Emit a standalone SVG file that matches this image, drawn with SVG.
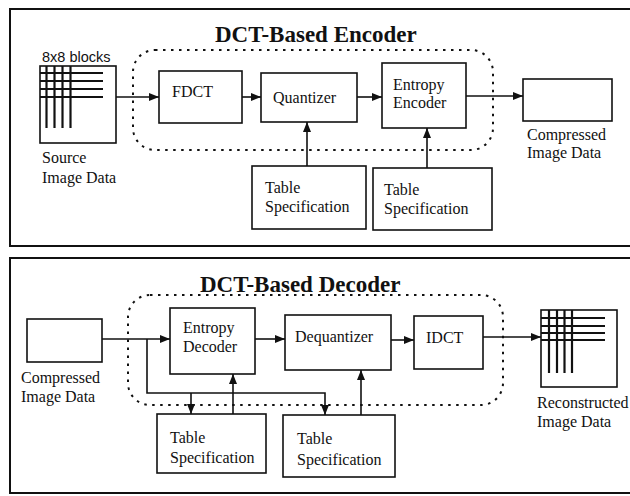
<svg xmlns="http://www.w3.org/2000/svg" width="630" height="496" viewBox="0 0 630 496">
  <defs>
    <marker id="arrow" viewBox="0 0 10 8" refX="10" refY="4" markerWidth="10" markerHeight="8" markerUnits="userSpaceOnUse" orient="auto">
      <path d="M0,0 L10,4 L0,8 Z" fill="#111"/>
    </marker>
  </defs>
  <style>
    .panel { fill: none; stroke: #111; stroke-width: 2; }
    .box { fill: #fff; stroke: #111; stroke-width: 1.6; }
    .group { fill: none; stroke: #111; stroke-width: 2; stroke-dasharray: 2.5 5.5; }
    .grid { stroke: #111; stroke-width: 2.2; }
    .wire { fill: none; stroke: #111; stroke-width: 1.6; marker-end: url(#arrow); }
    .line { fill: none; stroke: #111; stroke-width: 1.6; }
    .label { font-family: "Liberation Serif", "Times New Roman", serif; font-size: 16px; fill: #111; }
    .title { font-family: "Liberation Serif", "Times New Roman", serif; font-size: 23px; font-weight: bold; fill: #111; }
    .small { font-family: "Liberation Sans", Arial, sans-serif; font-size: 14.5px; fill: #111; }
  </style>
  <rect width="630" height="496" fill="#fff"/>

  <!-- Encoder panel -->
  <g id="encoder-panel">
    <rect class="panel" x="10" y="9" width="640" height="237"/>
    <text class="title" x="215" y="42">DCT-Based Encoder</text>
    <rect class="group" x="133" y="50" width="360" height="100" rx="22" ry="22"/>
  </g>

  <g id="source-image">
    <text class="small" x="42" y="62">8x8 blocks</text>
    <rect class="box" x="40" y="66" width="76" height="77"/>
    <g class="grid">
      <line x1="46.5" y1="66" x2="46.5" y2="128"/>
      <line x1="54.5" y1="66" x2="54.5" y2="128"/>
      <line x1="62.5" y1="66" x2="62.5" y2="128"/>
      <line x1="70.5" y1="66" x2="70.5" y2="128"/>
      <line x1="40" y1="73" x2="103" y2="73"/>
      <line x1="40" y1="81" x2="103" y2="81"/>
      <line x1="40" y1="89" x2="103" y2="89"/>
      <line x1="40" y1="97" x2="103" y2="97"/>
    </g>
    <text class="label" x="42" y="163">Source</text>
    <text class="label" x="42" y="183">Image Data</text>
  </g>

  <g id="fdct">
    <rect class="box" x="159" y="71" width="83" height="52"/>
    <text class="label" x="172" y="97">FDCT</text>
  </g>

  <g id="quantizer">
    <rect class="box" x="261" y="73" width="96" height="49"/>
    <text class="label" x="273" y="103">Quantizer</text>
  </g>

  <g id="entropy-encoder">
    <rect class="box" x="382" y="63" width="84" height="65"/>
    <text class="label" x="393" y="90">Entropy</text>
    <text class="label" x="393" y="108">Encoder</text>
  </g>

  <g id="compressed-out">
    <rect class="box" x="523" y="79" width="89" height="42"/>
    <text class="label" x="527" y="140">Compressed</text>
    <text class="label" x="527" y="158">Image Data</text>
  </g>

  <g id="enc-table-1">
    <rect class="box" x="252" y="166" width="114" height="63"/>
    <text class="label" x="265" y="193">Table</text>
    <text class="label" x="265" y="212">Specification</text>
  </g>

  <g id="enc-table-2">
    <rect class="box" x="373" y="168" width="119" height="62"/>
    <text class="label" x="384" y="195">Table</text>
    <text class="label" x="384" y="214">Specification</text>
  </g>

  <!-- Decoder panel -->
  <g id="decoder-panel">
    <rect class="panel" x="10" y="258" width="640" height="235"/>
    <text class="title" x="200" y="292">DCT-Based Decoder</text>
    <rect class="group" x="128" y="295" width="375" height="110" rx="22" ry="22"/>
  </g>

  <g id="compressed-in">
    <rect class="box" x="27" y="319" width="75" height="43"/>
    <text class="label" x="21" y="383">Compressed</text>
    <text class="label" x="21" y="402">Image Data</text>
  </g>

  <g id="entropy-decoder">
    <rect class="box" x="170" y="308" width="85" height="66"/>
    <text class="label" x="183" y="333">Entropy</text>
    <text class="label" x="183" y="352">Decoder</text>
  </g>

  <g id="dequantizer">
    <rect class="box" x="285" y="315" width="106" height="55"/>
    <text class="label" x="295" y="342">Dequantizer</text>
  </g>

  <g id="idct">
    <rect class="box" x="414" y="316" width="69" height="53"/>
    <text class="label" x="426" y="343">IDCT</text>
  </g>

  <g id="reconstructed-image">
    <rect class="box" x="541" y="310" width="76" height="77"/>
    <g class="grid">
      <line x1="549" y1="310" x2="549" y2="373"/>
      <line x1="557" y1="310" x2="557" y2="373"/>
      <line x1="564.5" y1="310" x2="564.5" y2="373"/>
      <line x1="572" y1="310" x2="572" y2="373"/>
      <line x1="541" y1="318" x2="605" y2="318"/>
      <line x1="541" y1="326" x2="605" y2="326"/>
      <line x1="541" y1="333" x2="605" y2="333"/>
      <line x1="541" y1="340" x2="605" y2="340"/>
    </g>
    <text class="label" x="537" y="408">Reconstructed</text>
    <text class="label" x="537" y="427">Image Data</text>
  </g>

  <g id="dec-table-1">
    <rect class="box" x="157" y="414" width="109" height="59"/>
    <text class="label" x="170" y="443">Table</text>
    <text class="label" x="170" y="463">Specification</text>
  </g>

  <g id="dec-table-2">
    <rect class="box" x="283" y="415" width="112" height="62"/>
    <text class="label" x="297" y="444">Table</text>
    <text class="label" x="297" y="465">Specification</text>
  </g>

  <!-- Connectors -->
  <g id="connectors">
    <line class="wire" x1="116" y1="97" x2="159" y2="97"/>
    <line class="wire" x1="242" y1="97" x2="261" y2="97"/>
    <line class="wire" x1="357" y1="97" x2="382" y2="97"/>
    <line class="wire" x1="466" y1="96" x2="523" y2="96"/>
    <line class="wire" x1="307" y1="166" x2="307" y2="122"/>
    <line class="wire" x1="427" y1="168" x2="427" y2="128"/>

    <line class="wire" x1="102" y1="339" x2="170" y2="339"/>
    <line class="wire" x1="255" y1="339" x2="285" y2="339"/>
    <line class="wire" x1="391" y1="340" x2="414" y2="340"/>
    <line class="wire" x1="483" y1="337" x2="541" y2="337"/>
    <path class="wire" d="M147,339 V393 H325 V415"/>
    <line class="wire" x1="191" y1="393" x2="191" y2="414"/>
    <line class="wire" x1="233" y1="414" x2="233" y2="374"/>
    <line class="wire" x1="361" y1="415" x2="361" y2="370"/>
  </g>
</svg>
